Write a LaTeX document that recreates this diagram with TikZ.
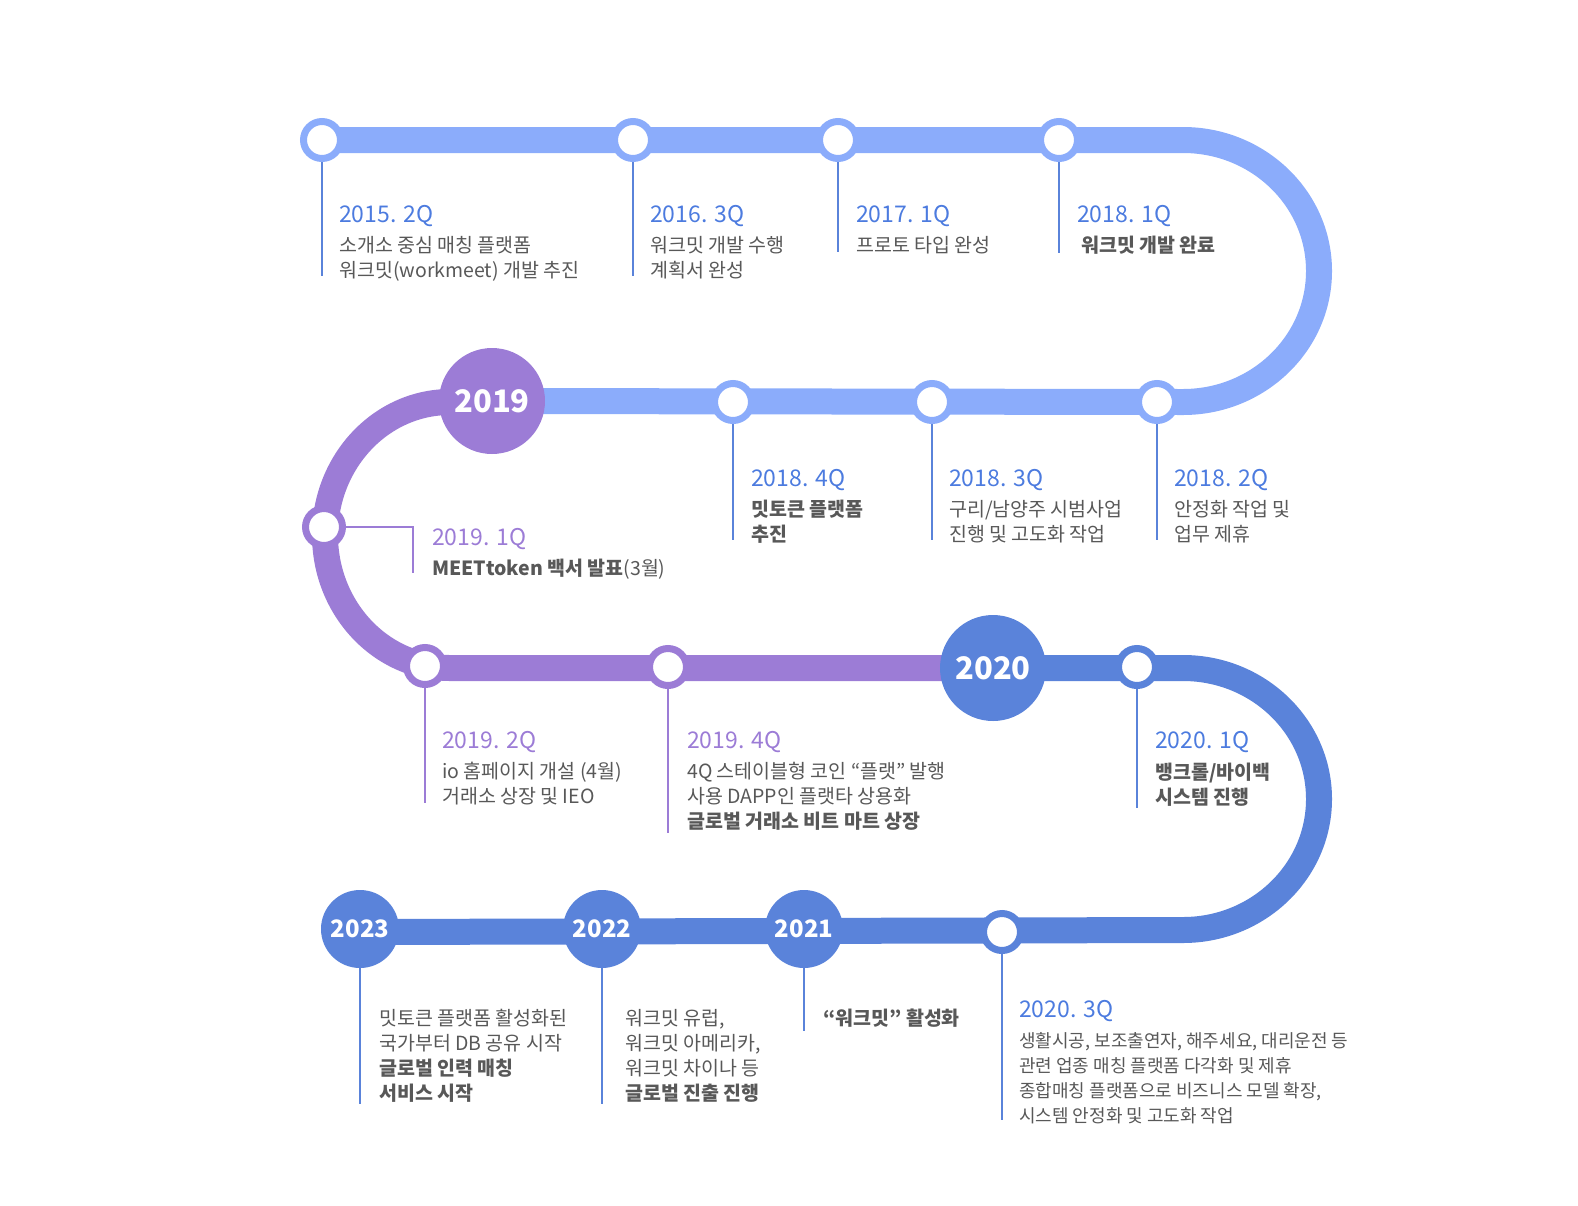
\documentclass[tikz,border=0pt]{standalone}
\usepackage{fontspec}
\setmainfont{Noto Sans CJK KR}
\usetikzlibrary{backgrounds}

\definecolor{lblue}{HTML}{8BACFB}
\definecolor{pur}{HTML}{9C7CD6}
\definecolor{blu}{HTML}{5A83DA}
\definecolor{dateblue}{HTML}{4C7BDF}
\definecolor{txt}{HTML}{585858}

\newcommand{\desclines}[1]{\begin{tabular}[t]{@{}l@{}}#1\end{tabular}}

\tikzset{
  track/.style = {line width=26pt, draw=#1},
  ring/.style = {circle, draw=#1, fill=white, line width=7pt, minimum size=37pt, inner sep=0pt},
  bigyear/.style = {circle, fill=#1, text=white, inner sep=0pt, minimum size=106pt,
                    font=\bfseries\fontsize{31}{31}\selectfont},
  smallyear/.style = {circle, fill=blu, text=white, inner sep=0pt, minimum size=78pt,
                    font=\bfseries\fontsize{24}{24}\selectfont},
  stem/.style = {draw=#1, line width=1.3pt},
  datelbl/.style = {anchor=base west, inner sep=0pt, text=#1, font=\fontsize{23}{23}\selectfont},
  desc/.style = {anchor=base west, inner sep=0pt, text=txt, font=\fontsize{19.5}{25}\selectfont},
}

\begin{document}
\begin{tikzpicture}[x=1pt, y=-1pt]
    \useasboundingbox (0,0) rectangle (1578,1205);

    % stations
    \node (q152)[ring = lblue] at (322,140) {};
    \node (q163)[ring = lblue] at (633,140) {};
    \node (q171)[ring = lblue] at (838,140) {};
    \node (q181)[ring = lblue] at (1059,140) {};
    \node (q184)[ring = lblue] at (733,402) {};
    \node (q183)[ring = lblue] at (932,402) {};
    \node (q182)[ring = lblue] at (1157,402) {};
    \node (y19)[bigyear = pur] at (492,401) {2019};
    \node (q191)[ring = pur] at (324,527) {};
    \node (q192)[ring = pur] at (425,666) {};
    \node (q194)[ring = pur] at (668,667) {};
    \node (y20)[bigyear = blu] at (993,668) {2020};
    \node (q201)[ring = blu] at (1137,667) {};
    \node (q203)[ring = blu] at (1002,932) {};
    \node (y21)[smallyear] at (804,929) {2021};
    \node (y22)[smallyear] at (602,929) {2022};
    \node (y23)[smallyear] at (360,929) {2023};

    % the route
    \begin{pgfonlayer}{background}
        \draw[track = lblue] (q152.center) -- (1183,140)
            arc[start angle=90, end angle=-90, x radius=136pt, y radius=131pt] -- (y19.center);
        \draw[track = pur] (y19.center) -- (450,402)
            arc[start angle=90, end angle=270, x radius=125pt, y radius=133pt] -- (y20.center);
        \draw[track = blu] (y20.center) -- (1183,668)
            arc[start angle=90, end angle=-90, x radius=136pt, y radius=131pt] -- (y23.center |- q203);
    \end{pgfonlayer}

    % stems
    \coordinate (s152) at (322,276);
    \coordinate (s163) at (633,276);
    \coordinate (s171) at (838,252);
    \coordinate (s181) at (1059,253);
    \coordinate (s184) at (733,540);
    \coordinate (s183) at (932,540);
    \coordinate (s182) at (1157,540);
    \coordinate (s191) at (413,573);
    \coordinate (s192) at (425,803);
    \coordinate (s194) at (668,833);
    \coordinate (s201) at (1137,808);
    \coordinate (s203) at (1002,1120);
    \coordinate (s21) at (804,1031);
    \coordinate (s22) at (602,1104);
    \coordinate (s23) at (360,1104);
    \path(q152) edge[stem = blu] (s152);
    \path(q163) edge[stem = blu] (s163);
    \path(q171) edge[stem = blu] (s171);
    \path(q181) edge[stem = blu] (s181);
    \path(q184) edge[stem = blu] (s184);
    \path(q183) edge[stem = blu] (s183);
    \path(q182) edge[stem = blu] (s182);
    \draw[stem = pur] (q191) -| (s191);
    \path(q192) edge[stem = pur] (s192);
    \path(q194) edge[stem = pur] (s194);
    \path(q201) edge[stem = blu] (s201);
    \path(q203) edge[stem = blu] (s203);
    \path(y21) edge[stem = blu] (s21);
    \path(y22) edge[stem = blu] (s22);
    \path(y23) edge[stem = blu] (s23);

    % labels
    \node (d152)[datelbl = dateblue] at (339,222) {2015. 2Q};
    \node (t152)[desc] at (339,252) {\desclines{소개소 중심 매칭 플랫폼\\워크밋(workmeet) 개발 추진}};
    \node (d163)[datelbl = dateblue] at (650,222) {2016. 3Q};
    \node (t163)[desc] at (650,252) {\desclines{워크밋 개발 수행\\계획서 완성}};
    \node (d171)[datelbl = dateblue] at (856,222) {2017. 1Q};
    \node (t171)[desc] at (856,252) {프로토 타입 완성};
    \node (d181)[datelbl = dateblue] at (1077,222) {2018. 1Q};
    \node (t181)[desc] at (1081,252) {\textbf{워크밋 개발 완료}};
    \node (d184)[datelbl = dateblue] at (751,486) {2018. 4Q};
    \node (t184)[desc] at (751,516) {\desclines{\textbf{밋토큰 플랫폼}\\\textbf{추진}}};
    \node (d183)[datelbl = dateblue] at (949,486) {2018. 3Q};
    \node (t183)[desc] at (949,516) {\desclines{구리/남양주 시범사업\\진행 및 고도화 작업}};
    \node (d182)[datelbl = dateblue] at (1174,486) {2018. 2Q};
    \node (t182)[desc] at (1174,516) {\desclines{안정화 작업 및\\업무 제휴}};
    \node (d191)[datelbl = pur] at (432,545) {2019. 1Q};
    \node (t191)[desc] at (432,575) {\textbf{MEETtoken 백서 발표}(3월)};
    \node (d192)[datelbl = pur] at (442,748) {2019. 2Q};
    \node (t192)[desc] at (442,778) {\desclines{io 홈페이지 개설 (4월)\\거래소 상장 및 IEO}};
    \node (d194)[datelbl = pur] at (687,748) {2019. 4Q};
    \node (t194)[desc] at (687,778) {\desclines{4Q 스테이블형 코인 “플랫” 발행\\사용 DAPP인 플랫타 상용화\\\textbf{글로벌 거래소 비트 마트 상장}}};
    \node (d201)[datelbl = dateblue] at (1155,748) {2020. 1Q};
    \node (t201)[desc] at (1155,779) {\desclines{\textbf{뱅크롤/바이백}\\\textbf{시스템 진행}}};
    \node (t23)[desc] at (379,1025) {\desclines{밋토큰 플랫폼 활성화된\\국가부터 DB 공유 시작\\\textbf{글로벌 인력 매칭}\\\textbf{서비스 시작}}};
    \node (t22)[desc] at (625,1025) {\desclines{워크밋 유럽,\\워크밋 아메리카,\\워크밋 차이나 등\\\textbf{글로벌 진출 진행}}};
    \node (t21)[desc] at (823,1025) {\textbf{“워크밋” 활성화}};
    \node (d203)[datelbl = dateblue] at (1019,1017) {2020. 3Q};
    \node (t203)[desc, font=\fontsize{18}{25}\selectfont] at (1019,1047) {\desclines{생활시공, 보조출연자, 해주세요, 대리운전 등\\관련 업종 매칭 플랫폼 다각화 및 제휴\\종합매칭 플랫폼으로 비즈니스 모델 확장,\\시스템 안정화 및 고도화 작업}};
\end{tikzpicture}
\end{document}
